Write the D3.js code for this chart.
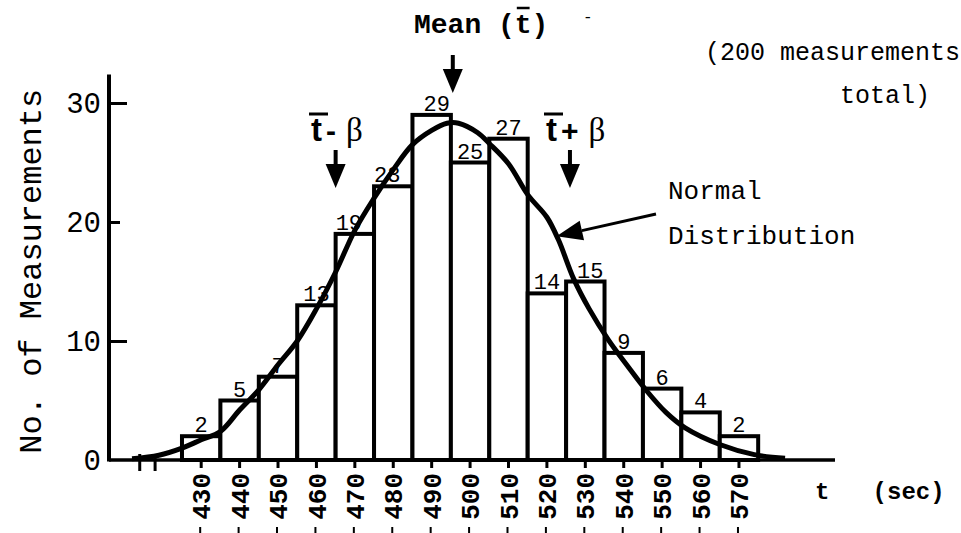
<!DOCTYPE html>
<html>
<head>
<meta charset="utf-8">
<script src="https://cdn.jsdelivr.net/npm/d3@7"></script>
<style>
  body { margin: 0; background: #fff; }
  svg { display: block; }
  text { fill: #000; }
</style>
</head>
<body>
<div id="chart"></div>
<script>
// histogram of 200 timing measurements, bins of 10 sec centred on the tick
var binCentres = [430, 440, 450, 460, 470, 480, 490, 500, 510, 520, 530, 540, 550, 560, 570];
var counts = [2, 5, 7, 13, 19, 23, 29, 25, 27, 14, 15, 9, 6, 4, 2];
var binWidth = 10;
var yTicks = [0, 10, 20, 30];

// normal curve
var curveT = [412, 419, 425, 430, 435, 440, 445, 450, 455, 460, 465, 470, 475, 480, 485, 490, 494, 497,
              502, 505, 510, 515, 520, 523, 527, 531, 536, 541, 546, 551, 556, 565, 574, 582];
var curveN = [0.1, 0.4, 1.0, 1.7, 2.4, 4.2, 5.9, 8.0, 10.0, 12.7, 15.8, 19.3, 22.0, 24.4, 26.5, 27.7, 28.3, 28.3,
              27.5, 26.6, 24.9, 22.3, 20.4, 18.5, 15.2, 12.7, 10.1, 7.9, 5.8, 4.0, 2.7, 1.3, 0.45, 0.15];

var tMean = 495.5;
var beta = 30.5;

var width = 961, height = 533;
var mono = "'Liberation Mono', 'Courier New', monospace";

var svg = d3.select("#chart").append("svg")
    .attr("width", width)
    .attr("height", height);

var x = d3.scaleLinear().domain([406, 595]).range([109, 835]);
var y = d3.scaleLinear().domain([0, 30]).range([460, 103]);
var y0 = y(0);

// bars
svg.append("g").selectAll("rect")
    .data(binCentres)
    .join("rect")
    .attr("x", (d) => x(d - binWidth / 2))
    .attr("y", (d, i) => y(counts[i]))
    .attr("width", (d) => x(d + binWidth / 2) - x(d - binWidth / 2))
    .attr("height", (d, i) => y0 - y(counts[i]))
    .attr("fill", "#fff")
    .attr("stroke", "#000")
    .attr("stroke-width", 4);

// counts above each bar (a couple sit a bit off centre in the original)
svg.append("g").selectAll("text")
    .data(binCentres)
    .join("text")
    .attr("x", (d, i) => x(d) + (counts[i] === 19 || counts[i] === 23 ? -6 : (counts[i] >= 29 || counts[i] === 15 ? 5 : 0)))
    .attr("y", (d, i) => y(counts[i]) - 4)
    .attr("text-anchor", "middle")
    .style("font-family", mono)
    .style("font-size", "22px")
    .text((d, i) => counts[i]);

// normal distribution curve
var line = d3.line()
    .x((d) => x(d))
    .y((d, i) => y(curveN[i]))
    .curve(d3.curveCatmullRom);

svg.append("path")
    .datum(curveT)
    .attr("d", line)
    .attr("fill", "none")
    .attr("stroke", "#000")
    .attr("stroke-width", 5);

// x axis
var xAxis = svg.append("g");
xAxis.append("line")
    .attr("x1", x(406)).attr("x2", x(595))
    .attr("y1", y0).attr("y2", y0)
    .attr("stroke", "#000").attr("stroke-width", 3.5);

xAxis.selectAll(".tick")
    .data(binCentres)
    .join("line")
    .attr("x1", (d) => x(d)).attr("x2", (d) => x(d))
    .attr("y1", y0).attr("y2", y0 + 8)
    .attr("stroke", "#000").attr("stroke-width", 3);

xAxis.selectAll(".lbl")
    .data(binCentres)
    .join("text")
    .attr("transform", (d) => "translate(" + x(d) + "," + (y0 + 13) + ") rotate(-90)")
    .attr("text-anchor", "end")
    .attr("dy", "0.35em")
    .style("font-family", mono)
    .style("font-weight", "bold")
    .style("font-size", "26px")
    .text((d) => d);

// little marks left below the labels
xAxis.selectAll(".mk")
    .data(binCentres)
    .join("line")
    .attr("x1", (d) => x(d) - 1).attr("x2", (d) => x(d) - 1)
    .attr("y1", 527).attr("y2", 533)
    .attr("stroke", "#000").attr("stroke-width", 2);

// axis break mark
xAxis.selectAll(".brk")
    .data([414, 418])
    .join("line")
    .attr("x1", (d) => x(d)).attr("x2", (d) => x(d))
    .attr("y1", y0 - 6).attr("y2", y0 + 11)
    .attr("stroke", "#000").attr("stroke-width", 3);

svg.append("text")
    .attr("x", 815).attr("y", 499)
    .attr("xml:space", "preserve")
    .style("white-space", "pre")
    .style("font-family", mono)
    .style("font-weight", "bold")
    .style("font-size", "24px")
    .text("t   (sec)");

// y axis
var yAxis = d3.axisLeft(y)
    .tickValues(yTicks)
    .tickSizeInner(-18)
    .tickSizeOuter(0)
    .tickPadding(8);

var yg = svg.append("g")
    .attr("transform", "translate(" + x(406) + ",0)")
    .call(yAxis);
yg.select(".domain").remove();
yg.selectAll(".tick line")
    .attr("stroke-width", 3)
    .attr("x2", (d) => d === 0 ? 0 : (d === 20 ? 11 : 18));
yg.selectAll(".tick text")
    .style("font-family", mono)
    .style("font-size", "29px");

svg.append("line")
    .attr("x1", x(406)).attr("x2", x(406))
    .attr("y1", y0 + 1.5).attr("y2", y(32.4))
    .attr("stroke", "#000").attr("stroke-width", 4);

svg.append("text")
    .attr("transform", "translate(41," + ((y0 + y(32.4)) / 2 + 4) + ") rotate(-90)")
    .attr("text-anchor", "middle")
    .style("font-family", mono)
    .style("font-size", "32px")
    .text("No. of Measurements");

// annotations
function downArrow(cx, top, bottom) {
    svg.append("line")
        .attr("x1", cx).attr("x2", cx)
        .attr("y1", top).attr("y2", bottom - 16)
        .attr("stroke", "#000").attr("stroke-width", 4);
    svg.append("path")
        .attr("d", "M" + (cx - 10) + "," + (bottom - 24) + "L" + (cx + 10) + "," + (bottom - 24) + "L" + cx + "," + bottom + "Z")
        .attr("fill", "#000");
}

downArrow(x(tMean), 55, 93);
downArrow(x(tMean - beta), 150, 188);
downArrow(x(tMean + beta), 150, 188);

var meanFs = 28;
var meanX = 414;
svg.append("text")
    .attr("x", meanX).attr("y", 33)
    .attr("xml:space", "preserve")
    .style("white-space", "pre")
    .style("font-family", mono)
    .style("font-weight", "bold")
    .style("font-size", meanFs + "px")
    .text("Mean (t)");
svg.append("line")
    .attr("x1", meanX + 6 * 0.6 * meanFs + 2).attr("x2", meanX + 7 * 0.6 * meanFs - 2)
    .attr("y1", 8).attr("y2", 8)
    .attr("stroke", "#000").attr("stroke-width", 2.5);
svg.append("text")
    .attr("x", 583).attr("y", 22)
    .style("font-family", mono)
    .style("font-size", "16px")
    .text("-");

function betaLabel(lx, sign) {
    var t = svg.append("text")
        .attr("x", lx).attr("y", 141);
    t.append("tspan")
        .style("font-family", "'Liberation Sans', Arial, sans-serif")
        .style("font-weight", "bold")
        .style("font-size", "33px")
        .text("t");
    t.append("tspan")
        .attr("dx", 4)
        .style("font-family", "'Liberation Sans', Arial, sans-serif")
        .style("font-weight", "bold")
        .style("font-size", "30px")
        .text(sign);
    t.append("tspan")
        .attr("dx", 10)
        .style("font-family", "'Liberation Serif', 'Times New Roman', serif")
        .style("font-size", "33px")
        .text("\u03b2");
    svg.append("line")
        .attr("x1", lx - 2).attr("x2", lx + 17)
        .attr("y1", 114).attr("y2", 114)
        .attr("stroke", "#000").attr("stroke-width", 3);
}
betaLabel(311, "-");
betaLabel(546, "+");

svg.append("text")
    .attr("x", 705).attr("y", 60)
    .attr("xml:space", "preserve")
    .style("white-space", "pre")
    .style("font-family", mono)
    .style("font-size", "25px")
    .text("(200 measurements");
svg.append("text")
    .attr("x", 930).attr("y", 103)
    .attr("text-anchor", "end")
    .style("font-family", mono)
    .style("font-size", "25px")
    .text("total)");

svg.append("text")
    .attr("x", 668).attr("y", 199)
    .style("font-family", mono)
    .style("font-size", "26px")
    .text("Normal");
svg.append("text")
    .attr("x", 668).attr("y", 244)
    .style("font-family", mono)
    .style("font-size", "26px")
    .text("Distribution");

// arrow pointing at the curve
var tipX = x(522.5), tipY = y(18.8);
var tailX = 656, tailY = 214;
var ang = Math.atan2(tipY - tailY, tipX - tailX);
var hl = 26, hw = 10;
var bx = tipX - hl * Math.cos(ang), by = tipY - hl * Math.sin(ang);
svg.append("line")
    .attr("x1", tailX).attr("y1", tailY)
    .attr("x2", bx).attr("y2", by)
    .attr("stroke", "#000").attr("stroke-width", 3);
svg.append("path")
    .attr("d", "M" + tipX + "," + tipY +
        "L" + (bx + hw * Math.sin(ang)) + "," + (by - hw * Math.cos(ang)) +
        "L" + (bx - hw * Math.sin(ang)) + "," + (by + hw * Math.cos(ang)) + "Z")
    .attr("fill", "#000");
</script>
</body>
</html>
